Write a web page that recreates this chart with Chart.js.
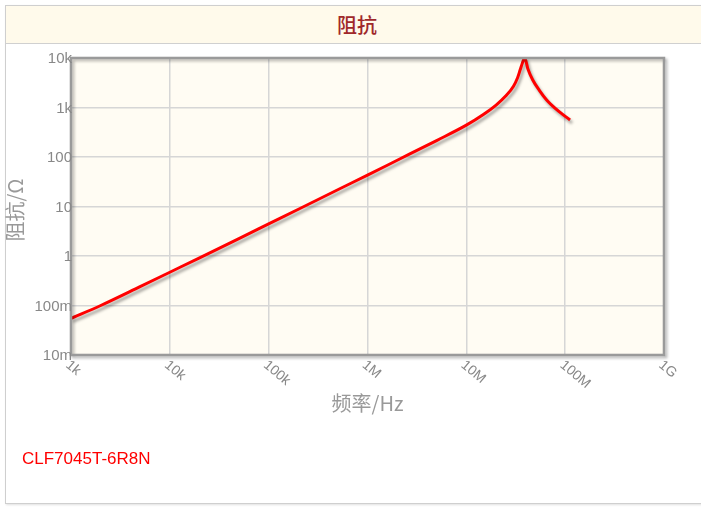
<!DOCTYPE html>
<html><head><meta charset="utf-8">
<script src="https://cdn.jsdelivr.net/npm/chart.js@4/dist/chart.umd.min.js"></script>
<style>
html,body{margin:0;padding:0;background:#fff;width:701px;height:507px;overflow:hidden;font-family:"Liberation Sans",Arial,sans-serif}
#box{position:absolute;left:5px;top:5px;width:740px;height:497px;border:1px solid #cfcfcf;box-shadow:1px 1px 2px #e0e0e0}
#title{position:absolute;left:6px;top:6px;width:740px;height:37px;background:#fffaeb;border-bottom:1px solid #d0d0d0}
#titleText{position:absolute;left:6px;top:6px;width:702px;height:37px;line-height:37px;text-align:center;color:#a0282a;font-size:20px;font-weight:500;font-family:"Noto Sans CJK SC",sans-serif}
#legend{position:absolute;left:22px;top:449px;color:#ff0000;font-size:17px;font-family:"Liberation Sans",Arial,sans-serif}
#c{position:absolute;left:0;top:0}
</style>
</head><body>
<div id="box"></div>
<div id="title"></div>
<div id="titleText">阻抗</div>
<canvas id="c" width="701" height="507"></canvas>
<div id="legend">CLF7045T-6R8N</div>
<script>
const seriesName = 'CLF7045T-6R8N';
const freqHz = [1e3, 2e3, 5e3, 1e4, 2e4, 5e4, 1e5, 2e5, 5e5, 1e6, 2e6, 5e6, 1e7, 1.5e7, 2e7, 2.5e7, 3e7, 3.3e7, 3.5e7, 3.7e7, 3.9e7, 4.2e7, 4.7e7, 5.5e7, 6.5e7, 8e7, 9.5e7, 1.12e8];
const impedanceOhm = [0.055, 0.1, 0.24, 0.47, 0.92, 2.25, 4.45, 8.8, 21.8, 43, 86, 215, 440, 730, 1120, 1700, 2700, 4000, 5700, 8000, 10000, 6000, 3600, 2200, 1420, 950, 720, 560];
const xTickValues = [1e3, 1e4, 1e5, 1e6, 1e7, 1e8, 1e9];
const xTickLabels = ['1k', '10k', '100k', '1M', '10M', '100M', '1G'];
const yTickValues = [1e-2, 1e-1, 1, 10, 100, 1e3, 1e4];
const yTickLabels = ['10m', '100m', '1', '10', '100', '1k', '10k'];
const xTitle = '频率/Hz';
const yTitle = '阻抗/Ω';

const points = freqHz.map((f, i) => ({x: f, y: impedanceOhm[i]}));

const decor = {
  id: 'decor',
  beforeDraw(chart) {
    const {ctx, chartArea: a} = chart;
    ctx.save();
    ctx.fillStyle = '#fffcf3';
    ctx.fillRect(a.left, a.top, a.right - a.left, a.bottom - a.top);
    ctx.restore();
  },
  beforeDatasetsDraw(chart) {
    const ctx = chart.ctx;
    ctx.save();
    ctx.shadowColor = 'rgba(0,0,0,0.35)';
    ctx.shadowOffsetX = 2;
    ctx.shadowOffsetY = 3;
    ctx.shadowBlur = 3;
  },
  afterDatasetsDraw(chart) {
    const {ctx, chartArea: a, scales} = chart;
    ctx.restore();
    // frame
    ctx.save();
    ctx.shadowColor = 'rgba(0,0,0,0.3)';
    ctx.shadowOffsetX = 2;
    ctx.shadowOffsetY = 2;
    ctx.shadowBlur = 3;
    ctx.strokeStyle = '#9a9a9a';
    ctx.lineWidth = 2.5;
    ctx.strokeRect(a.left, a.top, a.right - a.left, a.bottom - a.top);
    ctx.restore();
    // y tick labels
    ctx.save();
    ctx.fillStyle = '#888';
    ctx.font = '15px "Liberation Sans", Arial, sans-serif';
    ctx.textAlign = 'right';
    ctx.textBaseline = 'middle';
    yTickValues.forEach((v, i) => {
      ctx.fillText(yTickLabels[i], a.left + 1, scales.y.getPixelForValue(v) + 1);
    });
    // x tick labels
    ctx.textAlign = 'left';
    ctx.textBaseline = 'top';
    ctx.font = '14px "Liberation Sans", Arial, sans-serif';
    xTickValues.forEach((v, i) => {
      ctx.save();
      ctx.translate(scales.x.getPixelForValue(v) + 1, a.bottom + 3);
      ctx.rotate(40 * Math.PI / 180);
      ctx.fillText(xTickLabels[i], 0, 0);
      ctx.restore();
    });
    // axis titles
    ctx.fillStyle = '#999';
    ctx.font = '20px "Noto Sans CJK SC", sans-serif';
    ctx.textAlign = 'center';
    ctx.textBaseline = 'middle';
    ctx.fillText(xTitle, (a.left + a.right) / 2, 403);
    ctx.save();
    ctx.translate(15, 210);
    ctx.rotate(-Math.PI / 2);
    ctx.fillText(yTitle, 0, 0);
    ctx.restore();
    ctx.restore();
  }
};

new Chart(document.getElementById('c'), {
  type: 'scatter',
  data: {
    datasets: [{
      label: seriesName,
      data: points,
      showLine: true,
      borderColor: '#ff0000',
      backgroundColor: '#ff0000',
      borderWidth: 3,
      pointRadius: 0,
      cubicInterpolationMode: 'monotone'
    }]
  },
  options: {
    responsive: false,
    animation: false,
    layout: {padding: {left: 71, top: 58, right: 37, bottom: 152}},
    plugins: {legend: {display: false}, tooltip: {enabled: false}},
    scales: {
      x: {
        type: 'logarithmic', min: 1e3, max: 1e9,
        afterBuildTicks: s => { s.ticks = xTickValues.map(v => ({value: v})); },
        ticks: {display: false},
        grid: {color: '#d6d6d6', lineWidth: 1.5, drawTicks: false},
        border: {display: false}
      },
      y: {
        type: 'logarithmic', min: 1e-2, max: 1e4,
        afterBuildTicks: s => { s.ticks = yTickValues.map(v => ({value: v})); },
        ticks: {display: false},
        grid: {color: '#d6d6d6', lineWidth: 1.5, drawTicks: false},
        border: {display: false}
      }
    }
  },
  plugins: [decor]
});
</script>
</body></html>
